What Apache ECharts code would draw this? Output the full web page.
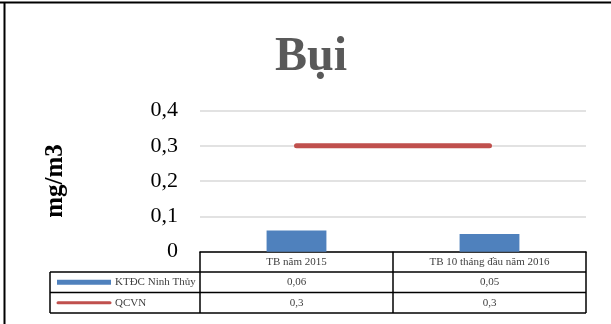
<!DOCTYPE html>
<html>
<head>
<meta charset="utf-8">
<style>
  html, body { margin: 0; padding: 0; background: #ffffff; }
  #chart { width: 611px; height: 324px; }
</style>
<script src="https://cdn.jsdelivr.net/npm/echarts@6/dist/echarts.min.js"></script>
</head>
<body>
<div id="chart"></div>
<script>
// Dust measurements vs. the QCVN limit (mg/m3)
const categories = ['TB năm 2015', 'TB 10 tháng đầu năm 2016'];
const stationName = 'KTĐC Ninh Thủy';
const stationValues = [0.06, 0.05];
const limitName = 'QCVN';
const limitValues = [0.3, 0.3];
const yTicks = [0, 0.1, 0.2, 0.3, 0.4];

const SERIF = '"Liberation Serif", "Times New Roman", serif';
const BLUE = '#4f81bd';
const RED = '#c0504d';

const fmt = v => String(v).replace('.', ',');

const chart = echarts.init(document.getElementById('chart'), null, { renderer: 'canvas' });

const GRID = { left: 200, right: 25, top: 110.4, bottom: 72.3 };

chart.setOption({
  animation: false,
  backgroundColor: '#ffffff',
  title: {
    text: 'Bụi',
    left: 270,
    top: 29,
    textStyle: { fontFamily: SERIF, fontSize: 48, fontWeight: 'bold', color: '#595959' }
  },
  grid: GRID,
  xAxis: {
    type: 'category',
    data: categories,
    boundaryGap: true,
    axisLine: { show: true, lineStyle: { color: '#000000', width: 1.5 } },
    axisTick: { show: false },
    axisLabel: { margin: 5, fontFamily: SERIF, fontSize: 11, color: '#404040' }
  },
  yAxis: {
    type: 'value',
    min: yTicks[0],
    max: yTicks[yTicks.length - 1],
    interval: 0.1,
    name: 'mg/m3',
    nameLocation: 'middle',
    nameGap: 132,
    nameRotate: 90,
    nameTextStyle: { fontFamily: SERIF, fontSize: 25, fontWeight: 'bold', color: '#000000' },
    axisLine: { show: false },
    axisTick: { show: false },
    axisLabel: {
      margin: 22,
      fontFamily: SERIF,
      fontSize: 22,
      color: '#000000',
      formatter: v => fmt(Math.round(v * 10) / 10)
    },
    splitLine: { lineStyle: { color: '#d9d9d9', width: 1.5 } }
  },
  series: [
    {
      name: stationName,
      type: 'bar',
      data: stationValues,
      barWidth: '31%',
      itemStyle: { color: BLUE }
    },
    {
      name: limitName,
      type: 'line',
      data: limitValues,
      symbol: 'none',
      lineStyle: { color: RED, width: 5, cap: 'round' }
    }
  ]
});

// Data table under the plot, laid out from the category axis positions
function drawTable() {
  const centers = categories.map((c, i) => chart.convertToPixel({ xAxisIndex: 0 }, i));
  const xLeft = GRID.left;
  const xRight = 611 - GRID.right;
  const xMid = (centers[0] + centers[1]) / 2;
  const legendLeft = 50;
  const yTop = chart.convertToPixel({ yAxisIndex: 0 }, 0);
  const rowH = 20.4;
  const y1 = yTop + rowH, y2 = yTop + rowH * 2, y3 = yTop + rowH * 3;
  const lineStyle = { stroke: '#000000', lineWidth: 1.5 };
  const seg = (x1, ya, x2, yb) => ({ type: 'line', shape: { x1: x1, y1: ya, x2: x2, y2: yb }, style: lineStyle, silent: true });
  const textStyle = { fontFamily: SERIF, fontSize: 11, fill: '#404040', textAlign: 'center', textVerticalAlign: 'middle' };
  const legendText = Object.assign({}, textStyle, { textAlign: 'left' });

  const els = [
    // outer frame
    { type: 'line', shape: { x1: 0, y1: 2.5, x2: 611, y2: 2.5 }, style: { stroke: '#000', lineWidth: 2 }, silent: true },
    { type: 'line', shape: { x1: 4.5, y1: 2, x2: 4.5, y2: 324 }, style: { stroke: '#000', lineWidth: 2 }, silent: true },
    // table grid
    seg(xLeft, yTop, xLeft, y3),
    seg(xMid, yTop, xMid, y3),
    seg(xRight, yTop, xRight, y3),
    seg(legendLeft, y1, xRight, y1),
    seg(legendLeft, y2, xRight, y2),
    seg(legendLeft, y3, xRight, y3),
    seg(legendLeft, y1, legendLeft, y3),
    // legend keys
    { type: 'line', shape: { x1: 57, y1: (y1 + y2) / 2, x2: 111, y2: (y1 + y2) / 2 }, style: { stroke: BLUE, lineWidth: 5 }, silent: true },
    { type: 'line', shape: { x1: 58, y1: (y2 + y3) / 2, x2: 110, y2: (y2 + y3) / 2 }, style: { stroke: RED, lineWidth: 3, lineCap: 'round' }, silent: true },
    { type: 'text', style: Object.assign({}, legendText, { text: stationName, x: 115, y: (y1 + y2) / 2 }), silent: true },
    { type: 'text', style: Object.assign({}, legendText, { text: limitName, x: 115, y: (y2 + y3) / 2 }), silent: true }
  ];
  centers.forEach((cx, i) => {
    els.push({ type: 'text', style: Object.assign({}, textStyle, { text: fmt(stationValues[i]), x: cx, y: (y1 + y2) / 2 }), silent: true });
    els.push({ type: 'text', style: Object.assign({}, textStyle, { text: fmt(limitValues[i]), x: cx, y: (y2 + y3) / 2 }), silent: true });
  });
  chart.setOption({ graphic: { elements: els } });
}
drawTable();
</script>
</body>
</html>
